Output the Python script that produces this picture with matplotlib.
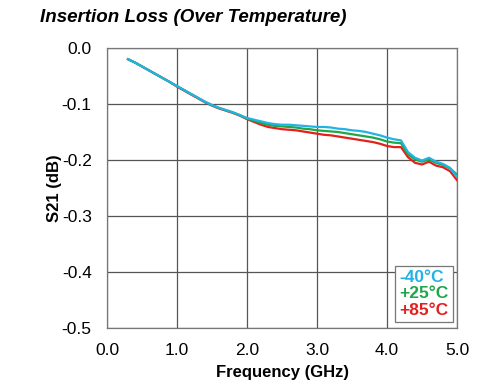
import matplotlib
matplotlib.use("Agg")
import matplotlib.pyplot as plt
from matplotlib.lines import Line2D

plt.rcParams['font.family'] = ['Liberation Sans', 'DejaVu Sans']

freq = [0.3, 0.4, 0.5, 0.6, 0.7, 0.8, 0.9, 1.0, 1.1, 1.2, 1.3, 1.4, 1.5, 1.6, 1.7, 1.8, 1.9, 2.0,
        2.1, 2.2, 2.3, 2.4, 2.5, 2.6, 2.7, 2.8, 2.9, 3.0, 3.1, 3.2, 3.3, 3.4, 3.5, 3.6, 3.7, 3.8,
        3.9, 4.0, 4.1, 4.2, 4.3, 4.4, 4.5, 4.6, 4.7, 4.8, 4.9, 5.0]

s21_m40 = [-0.020, -0.026, -0.033, -0.040, -0.047, -0.054, -0.061, -0.068, -0.075, -0.082,
           -0.089, -0.096, -0.102, -0.107, -0.111, -0.115, -0.120, -0.125, -0.128, -0.131,
           -0.134, -0.136, -0.137, -0.137, -0.138, -0.139, -0.140, -0.141, -0.141, -0.142,
           -0.144, -0.145, -0.147, -0.148, -0.150, -0.153, -0.156, -0.160, -0.163, -0.165,
           -0.186, -0.196, -0.201, -0.196, -0.203, -0.207, -0.214, -0.230]

s21_p25 = [-0.020, -0.026, -0.033, -0.040, -0.047, -0.054, -0.061, -0.068, -0.075, -0.082,
           -0.089, -0.096, -0.102, -0.107, -0.111, -0.115, -0.120, -0.126, -0.130, -0.134,
           -0.137, -0.139, -0.140, -0.141, -0.142, -0.144, -0.145, -0.147, -0.148, -0.149,
           -0.150, -0.152, -0.154, -0.156, -0.158, -0.160, -0.163, -0.167, -0.169, -0.170,
           -0.190, -0.199, -0.203, -0.199, -0.205, -0.209, -0.215, -0.226]

s21_p85 = [-0.020, -0.026, -0.033, -0.040, -0.047, -0.054, -0.061, -0.069, -0.076, -0.083,
           -0.090, -0.097, -0.103, -0.108, -0.112, -0.116, -0.121, -0.127, -0.132, -0.137,
           -0.141, -0.143, -0.145, -0.146, -0.147, -0.149, -0.151, -0.153, -0.155, -0.156,
           -0.158, -0.160, -0.162, -0.164, -0.166, -0.168, -0.171, -0.175, -0.177, -0.177,
           -0.195, -0.205, -0.208, -0.203, -0.210, -0.213, -0.220, -0.236]

labels = ['-40°C', '+25°C', '+85°C']
colors = ['#22B2E4', '#1EA64A', '#E3201C']

xticks = [0.0, 1.0, 2.0, 3.0, 4.0, 5.0]
yticks = [0.0, -0.1, -0.2, -0.3, -0.4, -0.5]

fig = plt.figure(figsize=(4.85, 3.88), dpi=100)
ax = fig.add_axes([0.2206, 0.1546, 0.7217, 0.7217])

series = [s21_m40, s21_p25, s21_p85]
for i in [2, 1, 0]:
    ax.plot(freq, series[i], color=colors[i], lw=1.6, zorder=3 + (2 - i))

ax.set_xlim(0, 5)
ax.set_ylim(-0.5, 0)
ax.set_xticks(xticks)
ax.set_yticks(yticks)
ax.set_xticklabels([f'{v:.1f}' for v in xticks], fontsize=12.5)
ax.set_yticklabels([f'{v:.1f}' for v in yticks], fontsize=12.5)
ax.tick_params(axis='y', length=0, pad=11)
ax.tick_params(axis='x', length=0, pad=11)
ax.grid(True, color='#555555', lw=0.9)
for s in ax.spines.values():
    s.set_color('#777777')
    s.set_linewidth(0.9)

ax.set_xlabel('Frequency (GHz)', fontsize=12, fontweight='bold', labelpad=5)
ax.set_ylabel('S21 (dB)', fontsize=12, fontweight='bold', labelpad=0)

fig.text(0.082, 0.955, 'Insertion Loss (Over Temperature)', fontsize=13.5, fontweight='bold',
         fontstyle='italic', va='center', ha='left')

handles = [Line2D([], [], color='none') for _ in labels]
leg = ax.legend(handles, labels, loc='lower right', bbox_to_anchor=(0.988, 0.022),
                handlelength=0, handletextpad=0, labelcolor=colors, fancybox=False,
                edgecolor='#777777', framealpha=1, borderpad=0.25, labelspacing=0.05,
                borderaxespad=0, prop={'weight': 'bold', 'size': 12.5})
leg.get_frame().set_linewidth(0.9)
leg.set_zorder(10)

fig.savefig('out.png', dpi=100)
